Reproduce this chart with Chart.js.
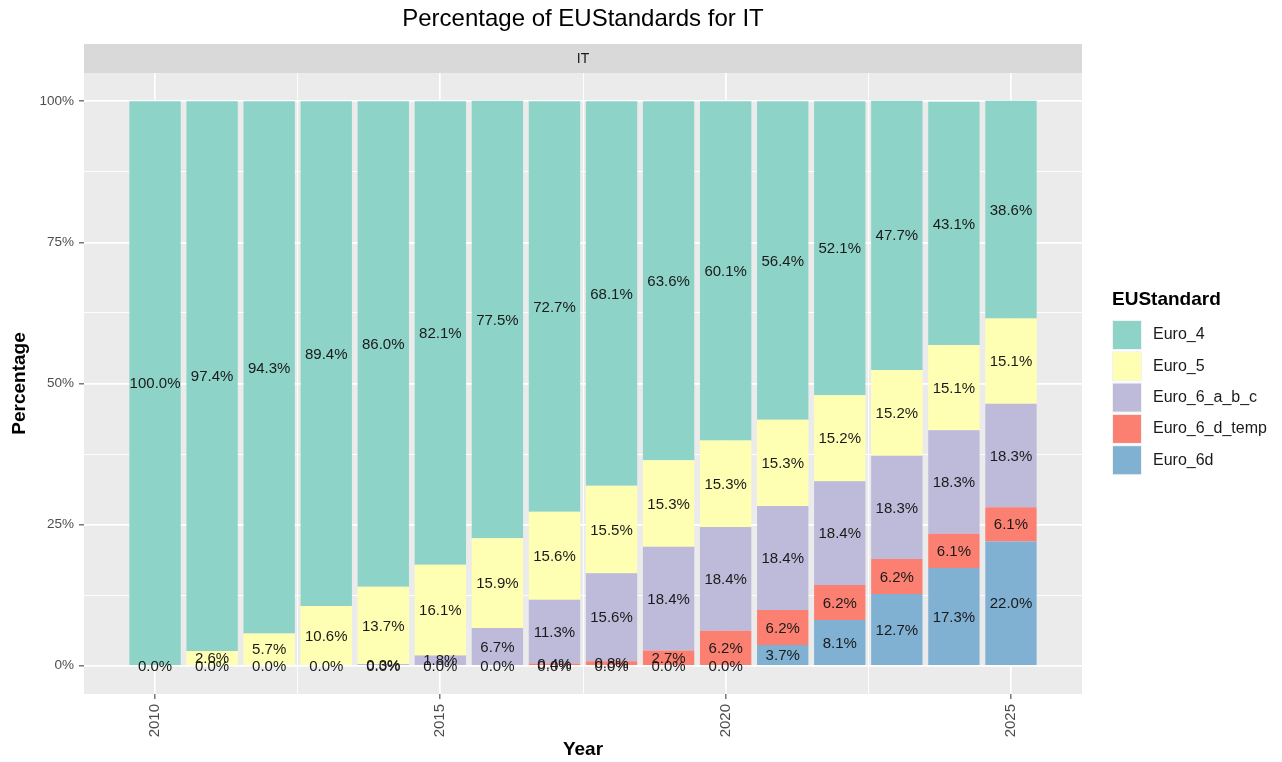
<!DOCTYPE html>
<html>
<head>
<meta charset="utf-8">
<title>Percentage of EUStandards for IT</title>
<script src="https://cdn.jsdelivr.net/npm/chart.js@4/dist/chart.umd.min.js"></script>
<style>
  html, body { margin: 0; padding: 0; background: #ffffff; }
  #wrap { width: 1282px; height: 762px; position: relative; }
</style>
</head>
<body>
<div id="wrap"><canvas id="chart" width="1282" height="762"></canvas></div>
<script>
const years = [2010, 2011, 2012, 2013, 2014, 2015, 2016, 2017, 2018, 2019, 2020, 2021, 2022, 2023, 2024, 2025];

// values per standard (null = no row for that year)
const euro6d     = [null, null, null, null, null, null, null, 0.0, 0.0, 0.0, 0.0, 3.7, 8.1, 12.7, 17.3, 22.0];
const euro6dTemp = [null, null, null, null, 0.0, 0.0, 0.0, 0.4, 0.8, 2.7, 6.2, 6.2, 6.2, 6.2, 6.1, 6.1];
const euro6abc   = [null, 0.0, 0.0, 0.0, 0.3, 1.8, 6.7, 11.3, 15.6, 18.4, 18.4, 18.4, 18.4, 18.3, 18.3, 18.3];
const euro5      = [0.0, 2.6, 5.7, 10.6, 13.7, 16.1, 15.9, 15.6, 15.5, 15.3, 15.3, 15.3, 15.2, 15.2, 15.1, 15.1];
const euro4      = [100.0, 97.4, 94.3, 89.4, 86.0, 82.1, 77.5, 72.7, 68.1, 63.6, 60.1, 56.4, 52.1, 47.7, 43.1, 38.6];

const yTicks = [0, 25, 50, 75, 100];
const xTicks = [2010, 2015, 2020, 2025];

const FONT = "'Liberation Sans', Arial, Helvetica, sans-serif";

function series(label, values, color) {
  return {
    label,
    data: years.map((y, i) => ({ x: y, y: values[i] })),
    backgroundColor: color,
    borderWidth: 0,
    categoryPercentage: 1.0,
    barPercentage: 0.9,
  };
}

// bottom of stack first
const datasets = [
  series("Euro_6d", euro6d, "#80B1D3"),
  series("Euro_6_d_temp", euro6dTemp, "#FB8072"),
  series("Euro_6_a_b_c", euro6abc, "#BEBADA"),
  series("Euro_5", euro5, "#FFFFB3"),
  series("Euro_4", euro4, "#8DD3C7"),
];

const decorPlugin = {
  id: "decor",
  beforeDraw(chart) {
    const { ctx, chartArea: a } = chart;
    ctx.save();
    ctx.fillStyle = "#EBEBEB";
    ctx.fillRect(a.left, a.top, a.right - a.left, a.bottom - a.top);
    // facet strip
    ctx.fillStyle = "#D9D9D9";
    ctx.fillRect(a.left, 44, a.right - a.left, a.top - 44);
    ctx.fillStyle = "#1A1A1A";
    ctx.font = "14px " + FONT;
    ctx.textAlign = "center";
    ctx.textBaseline = "middle";
    ctx.fillText("IT", (a.left + a.right) / 2, (44 + a.top) / 2 + 1);
    // title
    ctx.font = "24px " + FONT;
    ctx.fillStyle = "#000000";
    ctx.fillText("Percentage of EUStandards for IT", (a.left + a.right) / 2, 19);
    // axis titles
    ctx.font = "bold 19px " + FONT;
    ctx.fillText("Year", (a.left + a.right) / 2, 750);
    ctx.translate(20, (a.top + a.bottom) / 2);
    ctx.rotate(-Math.PI / 2);
    ctx.fillText("Percentage", 0, 0);
    ctx.restore();
  },
  afterDatasetsDraw(chart) {
    const { ctx } = chart;
    ctx.save();
    ctx.font = "15px " + FONT;
    ctx.fillStyle = "#1A1A1A";
    ctx.textAlign = "center";
    ctx.textBaseline = "middle";
    chart.data.datasets.forEach((ds, di) => {
      const meta = chart.getDatasetMeta(di);
      meta.data.forEach((bar, i) => {
        const v = ds.data[i].y;
        if (v === null || v === undefined) return;
        ctx.fillText(v.toFixed(1) + "%", bar.x, (bar.y + bar.base) / 2 + 1);
      });
    });
    ctx.restore();
  },
  afterDraw(chart) {
    const { ctx } = chart;
    ctx.save();
    ctx.fillStyle = "#000000";
    ctx.font = "bold 19px " + FONT;
    ctx.textAlign = "left";
    ctx.textBaseline = "middle";
    ctx.fillText("EUStandard", 1112, 300);
    ctx.font = "16px " + FONT;
    const items = [...chart.data.datasets].reverse();
    items.forEach((ds, i) => {
      const top = 320 + i * 31.3;
      ctx.fillStyle = "#F2F2F2";
      ctx.fillRect(1112, top, 30, 30);
      ctx.fillStyle = ds.backgroundColor;
      ctx.fillRect(1113, top + 1, 28, 28);
      ctx.fillStyle = "#1A1A1A";
      ctx.fillText(ds.label, 1153, top + 15);
    });
    ctx.restore();
  },
};

const isMajorY = (v) => yTicks.includes(v);
const isMajorX = (v) => xTicks.includes(v);

new Chart(document.getElementById("chart"), {
  type: "bar",
  data: { datasets },
  options: {
    responsive: false,
    animation: false,
    layout: { padding: { top: 73, right: 200, bottom: 0, left: 0 } },
    plugins: { legend: { display: false }, tooltip: { enabled: false } },
    scales: {
      x: {
        type: "linear",
        stacked: true,
        offset: false,
        min: 2008.755,
        max: 2026.245,
        afterBuildTicks: (scale) => {
          scale.ticks = [2010, 2012.5, 2015, 2017.5, 2020, 2022.5, 2025].map((v) => ({ value: v }));
        },
        afterFit: (scale) => { scale.height = 68; },
        border: { display: false },
        grid: {
          offset: false,
          color: "#FFFFFF",
          lineWidth: (c) => (c.tick && isMajorX(c.tick.value) ? 1.7 : 0.9),
          tickColor: (c) => (c.tick && isMajorX(c.tick.value) ? "#333333" : "rgba(0,0,0,0)"),
          tickLength: 5,
          tickWidth: 1,
        },
        ticks: {
          autoSkip: false,
          minRotation: 90,
          maxRotation: 90,
          padding: 5,
          color: "#4D4D4D",
          font: { family: FONT, size: 15 },
          callback: (v) => (isMajorX(v) ? String(v) : ""),
        },
      },
      y: {
        stacked: true,
        min: -5,
        max: 105,
        afterBuildTicks: (scale) => {
          scale.ticks = [0, 12.5, 25, 37.5, 50, 62.5, 75, 87.5, 100].map((v) => ({ value: v }));
        },
        afterFit: (scale) => { scale.width = 84; },
        border: { display: false },
        grid: {
          color: "#FFFFFF",
          lineWidth: (c) => (c.tick && isMajorY(c.tick.value) ? 1.7 : 0.9),
          tickColor: (c) => (c.tick && isMajorY(c.tick.value) ? "#333333" : "rgba(0,0,0,0)"),
          tickLength: 5,
          tickWidth: 1,
        },
        ticks: {
          padding: 5,
          color: "#4D4D4D",
          font: { family: FONT, size: 13.5 },
          callback: (v) => (isMajorY(v) ? v + "%" : ""),
        },
      },
    },
  },
  plugins: [decorPlugin],
});
</script>
</body>
</html>
